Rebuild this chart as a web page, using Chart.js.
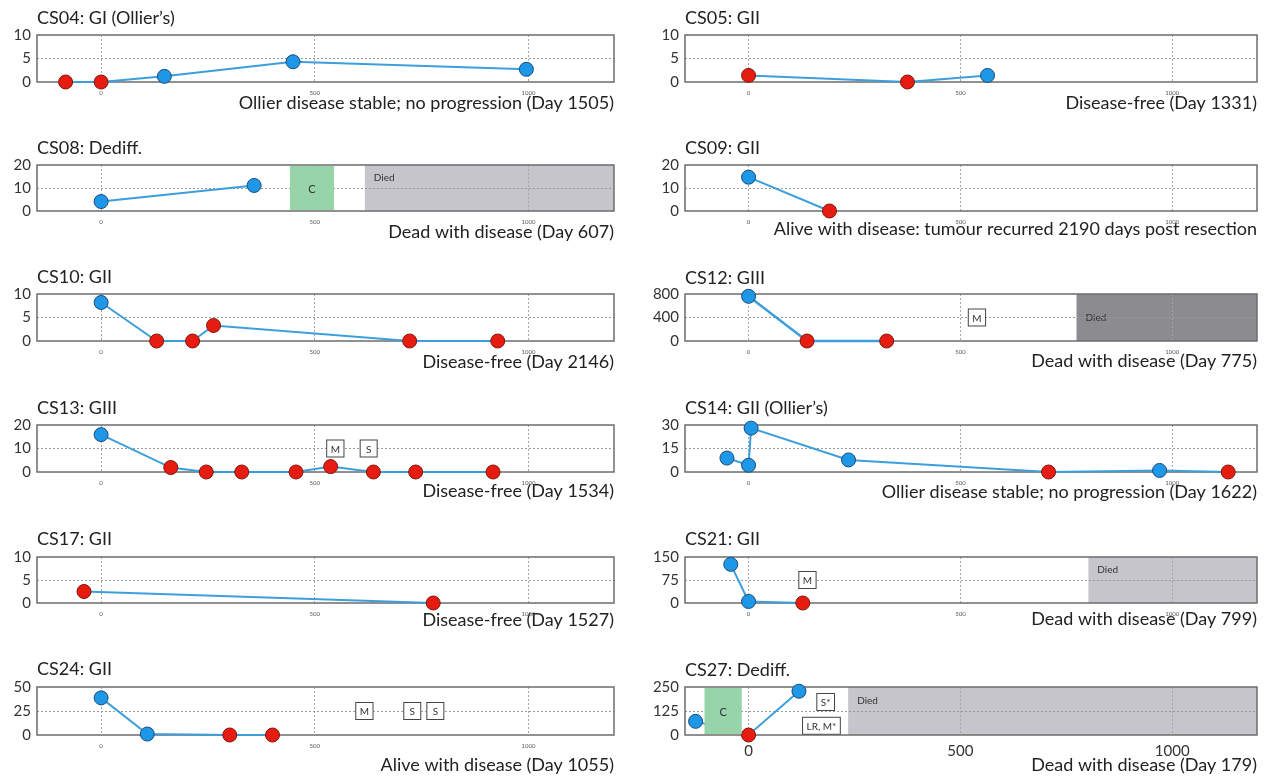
<!DOCTYPE html>
<html>
<head>
<meta charset="utf-8">
<script src="https://cdn.jsdelivr.net/npm/chart.js@4.4.1/dist/chart.umd.min.js"></script>
<style>
  html, body { margin: 0; padding: 0; background: #fff; }
  #wrap { position: relative; width: 1271px; height: 777px; overflow: hidden; }
  #wrap canvas { position: absolute; }
</style>
</head>
<body>
<div id="wrap"></div>
<script>
// --- values (one entry per panel) ---
const titles = ['CS04: GI (Ollier\u2019s)', 'CS05: GII', 'CS08: Dediff.', 'CS09: GII',
  'CS10: GII', 'CS12: GIII', 'CS13: GIII', 'CS14: GII (Ollier\u2019s)',
  'CS17: GII', 'CS21: GII', 'CS24: GII', 'CS27: Dediff.'];

const outcomes = ['Ollier disease stable; no progression (Day 1505)', 'Disease-free (Day 1331)',
  'Dead with disease (Day 607)', 'Alive with disease: tumour recurred 2190 days post resection',
  'Disease-free (Day 2146)', 'Dead with disease (Day 775)',
  'Disease-free (Day 1534)', 'Ollier disease stable; no progression (Day 1622)',
  'Disease-free (Day 1527)', 'Dead with disease (Day 799)',
  'Alive with disease (Day 1055)', 'Dead with disease (Day 179)'];

const days = [
  [-83, 0, 148, 449, 995],
  [0, 375, 564],
  [0, 358],
  [0, 191],
  [0, 130, 214, 263, 722, 928],
  [0, 138, 326],
  [0, 163, 246, 329, 456, 537, 637, 736, 917],
  [-51, 0, 6, 236, 708, 970, 1132],
  [-40, 777],
  [-42, 0, 128],
  [0, 108, 301, 401],
  [-125, 0, 119]
];

const values = [
  [0, 0, 1.2, 4.3, 2.7],
  [1.4, 0, 1.4],
  [4.1, 11.1],
  [14.7, 0],
  [8.2, 0, 0, 3.3, 0, 0],
  [761, 0, 0],
  [15.9, 1.9, 0, 0, 0, 2.3, 0, 0, 0],
  [8.9, 4.3, 28, 7.7, 0, 1, 0],
  [2.5, 0],
  [126, 5, 0],
  [38.7, 1, 0, 0],
  [71, 0, 228]
];

// 'b' = blue marker, 'r' = red marker
const status = [
  'rrbbb', 'rrb', 'bb', 'br', 'brrrrr', 'brr',
  'brrrrrrrr', 'bbbbrbr', 'rr', 'bbr', 'bbrr', 'brb'
];

const yTicks = [
  [0, 5, 10], [0, 5, 10], [0, 10, 20], [0, 10, 20], [0, 5, 10], [0, 400, 800],
  [0, 10, 20], [0, 15, 30], [0, 5, 10], [0, 75, 150], [0, 25, 50], [0, 125, 250]
];

const xTicks = [0, 500, 1000];
const xRange = [-150, 1200];

// treatment windows and death (days)
const chemo = [null, null, [442, 545], null, null, null, null, null, null, null, null, [-104, -16]];
const died = [null, null, 617, null, null, 774, null, null, null, 802, null, 235];

const events = [
  [], [], [], [], [],
  [{ day: 539, level: 400, text: 'M' }],
  [{ day: 548, level: 10, text: 'M' }, { day: 626, level: 10, text: 'S' }],
  [], [],
  [{ day: 139, level: 75, text: 'M' }],
  [{ day: 616, level: 25, text: 'M' }, { day: 728, level: 25, text: 'S' }, { day: 782, level: 25, text: 'S' }],
  [{ day: 182, level: 172, text: 'S*' }, { day: 172, level: 48, text: 'LR, M*' }]
];

// --- layout ---
const FONT = "Lato, 'Open Sans', sans-serif";
const BLUE = '#1e98e6', BLUE_EDGE = '#1b4a7e';
const RED = '#e61c10', RED_EDGE = '#7e170e';
const LINE = '#3c9fdc';

const plotTop = [35, 165, 294, 425, 557, 687];
const plotBottom = [82, 211, 341, 472, 603, 735];
const titleY = [18, 18, 148, 148, 277, 278, 408, 408, 539, 539, 669, 670];
const noteY = [103, 103, 232, 229, 362, 361, 491, 492, 620, 619, 765, 765];
const colLeft = [0, 640], colPlotLeft = [37, 685], colPlotRight = [614, 1257], colWidth = [630, 631];

const decor = {
  id: 'decor',
  beforeDraw(chart, args, o) {
    // died band sits under the grid lines
    if (o.died == null) return;
    const { ctx, chartArea: a, scales: { x } } = chart;
    const x0 = x.getPixelForValue(o.died);
    ctx.save();
    ctx.fillStyle = o.diedColor;
    ctx.fillRect(x0, a.top, a.right - x0, a.bottom - a.top);
    ctx.fillStyle = '#333';
    ctx.font = '10px ' + FONT;
    ctx.textBaseline = 'middle';
    ctx.fillText('Died', x0 + 9, a.top + (a.bottom - a.top) * o.diedAt);
    ctx.restore();
  },
  beforeDatasetsDraw(chart) {
    const { ctx, chartArea: a } = chart;
    ctx.save();
    ctx.strokeStyle = '#6c6c6c';
    ctx.lineWidth = 1.5;
    ctx.strokeRect(a.left, a.top, a.right - a.left, a.bottom - a.top);
    ctx.restore();
  },
  afterDatasetsDraw(chart, args, o) {
    const { ctx, chartArea: a, scales: { x, y } } = chart;
    ctx.save();
    if (o.chemo) {
      const x0 = x.getPixelForValue(o.chemo[0]), x1 = x.getPixelForValue(o.chemo[1]);
      ctx.fillStyle = '#98d4a9';
      ctx.fillRect(x0, a.top + 1, x1 - x0, a.bottom - a.top - 2);
      ctx.fillStyle = '#333';
      ctx.font = '11px ' + FONT;
      ctx.textAlign = 'center';
      ctx.textBaseline = 'middle';
      ctx.fillText('C', (x0 + x1) / 2, (a.top + a.bottom) / 2 + 1);
    }
    ctx.font = '10px ' + FONT;
    ctx.textAlign = 'center';
    ctx.textBaseline = 'middle';
    o.events.forEach(e => {
      const cx = x.getPixelForValue(e.day), cy = y.getPixelForValue(e.level);
      const w = Math.max(18, ctx.measureText(e.text).width + 9), h = 18;
      ctx.fillStyle = '#fff';
      ctx.fillRect(cx - w / 2, cy - h / 2, w, h);
      ctx.strokeStyle = '#444';
      ctx.lineWidth = 1;
      ctx.strokeRect(cx - w / 2 + 0.5, cy - h / 2 + 0.5, w - 1, h - 1);
      ctx.fillStyle = '#333';
      ctx.fillText(e.text, cx, cy + 1);
    });
    ctx.restore();
  }
};

const wrap = document.getElementById('wrap');

titles.forEach((title, i) => {
  const col = i % 2, row = Math.floor(i / 2);
  const bigX = i === 11;
  const xh = bigX ? 26 : 15;            // x scale box must hold its labels
  const top = Math.round(titleY[i] - 10.8);
  const H = Math.round(noteY[i] + 10.8 - top);
  const b1 = plotTop[row] - top - 21.6;
  const t2 = H - 21.6 - xh - (plotBottom[row] - top);
  const yw = colPlotLeft[col] - colLeft[col];
  const W = colWidth[col];

  const canvas = document.createElement('canvas');
  canvas.width = W;
  canvas.height = H;
  canvas.style.left = colLeft[col] + 'px';
  canvas.style.top = top + 'px';
  canvas.style.width = W + 'px';
  canvas.style.height = H + 'px';
  wrap.appendChild(canvas);

  const mid = yTicks[i][1];

  new Chart(canvas, {
    type: 'scatter',
    data: {
      datasets: [{
        data: days[i].map((d, k) => ({ x: d, y: values[i][k] })),
        showLine: true,
        borderColor: LINE,
        borderWidth: i === 5 ? 2.5 : 2,
        pointRadius: 7,
        pointHoverRadius: 7,
        pointBorderWidth: 1,
        pointBackgroundColor: status[i].split('').map(s => s === 'b' ? BLUE : RED),
        pointBorderColor: status[i].split('').map(s => s === 'b' ? BLUE_EDGE : RED_EDGE),
        clip: false
      }]
    },
    options: {
      responsive: false,
      animation: false,
      devicePixelRatio: 1,
      layout: { padding: { left: 0, top: 0, bottom: 0, right: W - (colPlotRight[col] - colLeft[col]) } },
      events: [],
      scales: {
        x: {
          type: 'linear',
          min: xRange[0],
          max: xRange[1],
          afterBuildTicks: s => { s.ticks = xTicks.map(v => ({ value: v })); },
          afterFit: s => { s.height = xh; },
          grid: { color: '#a6a6a6', lineWidth: 1, drawTicks: false, borderDash: [2, 2] },
          border: { display: false, dash: [2, 2] },
          ticks: {
            autoSkip: false,
            maxRotation: 0,
            padding: 7,
            color: bigX ? '#333' : '#555',
            font: { family: FONT, size: bigX ? 15 : 6 },
            callback: v => String(v)
          }
        },
        y: {
          min: yTicks[i][0],
          max: yTicks[i][2],
          afterBuildTicks: s => { s.ticks = yTicks[i].map(v => ({ value: v })); },
          afterFit: s => { s.width = yw; },
          grid: {
            color: c => (c.tick && c.tick.value === mid) ? '#9a9a9a' : 'rgba(0,0,0,0)',
            lineWidth: 1, drawTicks: false, borderDash: [2, 2]
          },
          border: { display: false, dash: [2, 2] },
          ticks: {
            padding: 6,
            color: '#333',
            font: { family: FONT, size: 15 },
            callback: v => String(v)
          }
        }
      },
      plugins: {
        legend: { display: false },
        tooltip: { enabled: false },
        title: {
          display: true,
          text: title,
          align: 'start',
          fullSize: false,
          color: '#222',
          font: { family: FONT, size: 18, weight: 'normal', lineHeight: 1.2 },
          padding: { top: 0, bottom: b1 }
        },
        subtitle: {
          display: true,
          text: outcomes[i],
          position: 'bottom',
          align: 'end',
          fullSize: false,
          color: '#222',
          font: { family: FONT, size: 18, weight: 'normal', lineHeight: 1.2 },
          padding: { top: t2, bottom: 0 }
        },
        decor: {
          died: died[i],
          diedColor: i === 5 ? '#8c8b90' : '#c6c5cb',
          diedAt: i === 5 ? 0.5 : 0.28,
          chemo: chemo[i],
          events: events[i]
        }
      }
    },
    plugins: [decor]
  });
});
</script>
</body>
</html>
